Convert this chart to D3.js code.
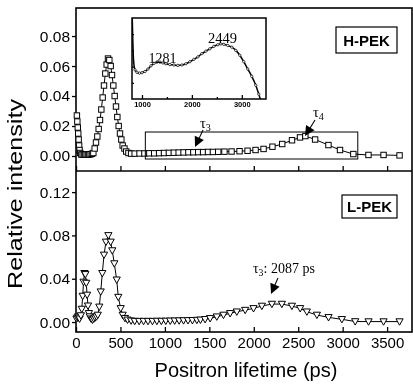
<!DOCTYPE html>
<html><head><meta charset="utf-8">
<script src="https://cdn.jsdelivr.net/npm/d3@7"></script>
<style>body{margin:0;background:#fff}svg{display:block;filter:grayscale(1)}text{fill:#000}</style>
</head><body><svg id="c" width="413" height="384"></svg>
<script>
// ---------- data ----------
const hpekLifetime = [10,15,20,25,30,35,40,48,60,75,90,105,120,135,150,165,180,195,210,225,240,255,270,285,300,315,330,345,360,375,390,405,420,435,450,465,480,495,510,525,545,565,590,620,660,715,770,825,880,935,990,1045,1100,1155,1210,1265,1320,1375,1430,1485,1540,1600,1670,1750,1840,1930,2020,2110,2210,2320,2430,2520,2580,2690,2840,2970,3120,3290,3460,3640];
const hpekIntensity = [0.027,0.023,0.019,0.015,0.011,0.007,0.004,0.002,0.001,0.001,0.001,0.001,0.001,0.001,0.001,0.0012,0.0015,0.002,0.005,0.009,0.013,0.018,0.024,0.031,0.039,0.047,0.055,0.061,0.065,0.064,0.060,0.054,0.047,0.040,0.033,0.026,0.020,0.015,0.011,0.007,0.005,0.003,0.002,0.0016,0.0016,0.0017,0.0017,0.0018,0.0018,0.0019,0.002,0.0021,0.0022,0.0023,0.0024,0.0025,0.0025,0.0026,0.0026,0.0027,0.0027,0.0028,0.0029,0.003,0.0032,0.0035,0.004,0.0047,0.0062,0.008,0.0105,0.0124,0.0133,0.011,0.0073,0.004,0.0013,0.0007,0.0007,0.0004];

const lpekLifetime = [5,15,25,32,40,55,65,75,85,95,105,115,125,135,145,155,170,185,200,215,230,245,262,278,296,315,337,364,390,408,431,458,476,503,525,551,580,620,660,710,760,810,860,910,960,1010,1060,1110,1160,1210,1260,1310,1360,1400,1452,1509,1584,1659,1734,1809,1903,1997,2091,2204,2316,2429,2522,2597,2710,2841,2991,3141,3291,3460,3640];
const lpekIntensity = [0.003,0.004,0.005,0.004,0.003,0.006,0.012,0.024,0.037,0.045,0.044,0.036,0.025,0.015,0.008,0.005,0.003,0.002,0.003,0.004,0.005,0.0065,0.014,0.028,0.045,0.062,0.074,0.080,0.074,0.066,0.054,0.039,0.023,0.0126,0.0065,0.0035,0.002,0.0012,0.0008,0.0008,0.0008,0.0008,0.0008,0.0009,0.0009,0.001,0.0011,0.0012,0.0013,0.0014,0.0015,0.0016,0.0018,0.002,0.0025,0.0034,0.0049,0.0065,0.008,0.0095,0.011,0.0126,0.0148,0.0166,0.0166,0.0148,0.0126,0.0095,0.0065,0.0043,0.0025,0.0005,0.0004,0.0004,0.0004];

const insetLifetime = [805,815,825,840,860,900,950,1000,1060,1120,1180,1240,1300,1360,1420,1480,1560,1640,1720,1800,1880,1960,2040,2120,2200,2280,2360,2440,2520,2580,2640,2720,2800,2880,2960,3040,3120,3200,3280,3340,3380];
const insetIntensity = [1.0,0.75,0.55,0.42,0.36,0.33,0.32,0.325,0.34,0.37,0.41,0.44,0.455,0.455,0.445,0.435,0.425,0.42,0.415,0.42,0.435,0.46,0.49,0.52,0.56,0.59,0.62,0.65,0.67,0.68,0.675,0.66,0.64,0.60,0.54,0.46,0.37,0.28,0.17,0.06,-0.02];

const xTicks = [0,500,1000,1500,2000,2500,3000,3500];
const topTicks = [0.00,0.02,0.04,0.06,0.08];
const botTicks = [0.00,0.04,0.08,0.12];
const insetXTicks = [1000,2000,3000];
const insetMinorTicks = [1500,2500];
const insetYTicks = [0.2,0.4,0.6,0.8];
const insetPeakLabels = ["1281","2449"];
const panelNames = ["H-PEK","L-PEK"];
const xTitle = "Positron lifetime (ps)";
const yTitle = "Relative intensity";

// ---------- layout ----------
const L=76, R=412, T=8, M=171, B=332;
const sans = "'Liberation Sans', Arial, Helvetica, sans-serif";
const serif = "'Liberation Serif', 'Times New Roman', serif";
const svg = d3.select('#c');

const x = d3.scaleLinear().domain([0,3780]).range([L,R]);
const yTop = d3.scaleLinear().domain([-0.01,0.0987]).range([M,T]);
const yBot = d3.scaleLinear().domain([-0.0092,0.1395]).range([B,M]);

const ix = d3.scaleLinear().domain([800,3485]).range([132,266]);
const iy = d3.scaleLinear().domain([0,1]).range([99,18]);

function styleAxis(g, fs){
  g.select('.domain').remove();
  g.selectAll('text').attr('font-family',sans).attr('font-size',fs).attr('fill','#000');
  g.selectAll('line').attr('stroke','#000').attr('stroke-width',1.3);
}

// y axes
svg.append('g').attr('transform',`translate(${L},0)`)
  .call(d3.axisLeft(yTop).tickValues(topTicks).tickFormat(d3.format('.2f')).tickSize(4).tickPadding(2))
  .call(g=>styleAxis(g,15.5));
svg.append('g').attr('transform',`translate(${L},0)`)
  .call(d3.axisLeft(yBot).tickValues(botTicks).tickFormat(d3.format('.2f')).tickSize(4).tickPadding(2))
  .call(g=>styleAxis(g,15.5));

// x axes (ticks inward)
svg.append('g').attr('transform',`translate(0,${B})`)
  .call(d3.axisBottom(x).tickValues(xTicks).tickFormat(d3.format('d')).tickSizeInner(-5).tickSizeOuter(0).tickPadding(5))
  .call(g=>styleAxis(g,15));
svg.append('g').attr('transform',`translate(0,${M})`)
  .call(d3.axisBottom(x).tickValues(xTicks).tickFormat('').tickSizeInner(-5).tickSizeOuter(0))
  .call(g=>styleAxis(g,15));

// frame
svg.append('rect').attr('x',L).attr('y',T).attr('width',R-L).attr('height',B-T)
  .attr('fill','none').attr('stroke','#000').attr('stroke-width',1.6);
svg.append('line').attr('x1',L).attr('x2',R).attr('y1',M).attr('y2',M)
  .attr('stroke','#000').attr('stroke-width',1.6);

// titles
svg.append('text').attr('x',(L+R)/2+2).attr('y',377).attr('text-anchor','middle')
  .attr('font-family',sans).attr('font-size',21).attr('textLength',183).attr('lengthAdjust','spacingAndGlyphs')
  .attr('fill','#000').text(xTitle);
svg.append('text').attr('transform','translate(22,194) rotate(-90)').attr('text-anchor','middle')
  .attr('font-family',sans).attr('font-size',21).attr('textLength',190).attr('lengthAdjust','spacingAndGlyphs')
  .attr('fill','#000').text(yTitle);

// ---------- series ----------
const hpek = hpekLifetime.map((t,i)=>[t,hpekIntensity[i]]);
const lpek = lpekLifetime.map((t,i)=>[t,lpekIntensity[i]]);

svg.append('path').datum(hpek)
  .attr('d', d3.line().x(d=>x(d[0])).y(d=>yTop(d[1])))
  .attr('fill','none').attr('stroke','#000').attr('stroke-width',1);
svg.append('g').selectAll('rect').data(hpek).join('rect')
  .attr('x',d=>x(d[0])-2.7).attr('y',d=>yTop(d[1])-2.7).attr('width',5.4).attr('height',5.4)
  .attr('fill','#fff').attr('stroke','#000').attr('stroke-width',1);

svg.append('path').datum(lpek)
  .attr('d', d3.line().x(d=>x(d[0])).y(d=>yBot(d[1])))
  .attr('fill','none').attr('stroke','#000').attr('stroke-width',1);
svg.append('g').selectAll('path').data(lpek).join('path')
  .attr('transform',d=>`translate(${x(d[0])},${yBot(d[1])})`)
  .attr('d','M-3.6,-2.8L3.6,-2.8L0,3.6Z')
  .attr('fill','#fff').attr('stroke','#000').attr('stroke-width',1);

// ---------- annotations ----------
function arrow(x1,y1,x2,y2){
  const dx=x2-x1, dy=y2-y1, len=Math.hypot(dx,dy), ux=dx/len, uy=dy/len;
  const hl=10, hw=5;
  const bx=x2-ux*hl, by=y2-uy*hl;
  svg.append('line').attr('x1',x1).attr('y1',y1).attr('x2',bx+ux).attr('y2',by+uy)
    .attr('stroke','#000').attr('stroke-width',1.1);
  svg.append('path').attr('d',`M${x2},${y2}L${bx-uy*hw},${by+ux*hw}L${bx+uy*hw},${by-ux*hw}Z`).attr('fill','#000');
}
function tau(xp,yp,sub,extra,fs){
  const t = svg.append('text').attr('x',xp).attr('y',yp).attr('font-family',serif).attr('font-size',fs).attr('fill','#000');
  t.append('tspan').text('τ');
  t.append('tspan').attr('font-size',fs*0.7).attr('dy',3).text(sub);
  if(extra) t.append('tspan').attr('dy',-3).text(extra);
}

// top-panel box around tau3/tau4 region
svg.append('rect').attr('x',x(780)).attr('y',yTop(0.016)).attr('width',x(3170)-x(780)).attr('height',yTop(-0.002)-yTop(0.016))
  .attr('fill','none').attr('stroke','#000').attr('stroke-width',1);

tau(x(1395),yTop(0.0187),'3',null,14.5);
arrow(x(1429),yTop(0.0173),x(1339),yTop(0.006));
tau(x(2666),yTop(0.026),'4',null,14.5);
arrow(x(2689),yTop(0.024),x(2576),yTop(0.0133));

tau(x(1991),yBot(0.0453),'3',': 2087 ps',14);
arrow(x(2272),yBot(0.0407),x(2194),yBot(0.0259));

// panel labels
[[panelNames[0],336,27,61,26,46],[panelNames[1],342,195,55,23,212]].forEach(p=>{
  svg.append('rect').attr('x',p[1]).attr('y',p[2]).attr('width',p[3]).attr('height',p[4])
    .attr('fill','#fff').attr('stroke','#000').attr('stroke-width',1.2);
  svg.append('text').attr('x',p[1]+p[3]/2).attr('y',p[5]).attr('text-anchor','middle')
    .attr('font-family',sans).attr('font-weight','bold').attr('font-size',15).attr('fill','#000').text(p[0]);
});

// ---------- inset ----------
const ins = svg.append('g');
ins.append('rect').attr('x',132).attr('y',18).attr('width',134).attr('height',81)
  .attr('fill','#fff').attr('stroke','#000').attr('stroke-width',1.5);
svg.append('clipPath').attr('id','ic').append('rect').attr('x',132).attr('y',18).attr('width',134).attr('height',81);
const inset = insetLifetime.map((t,i)=>[t,insetIntensity[i]]);
const ig = ins.append('g').attr('clip-path','url(#ic)');
ig.append('path').datum(inset)
  .attr('d',d3.line().x(d=>ix(d[0])).y(d=>iy(d[1])).curve(d3.curveMonotoneX))
  .attr('fill','none').attr('stroke','#000').attr('stroke-width',1.5);
ig.selectAll('circle').data(inset.slice(4)).join('circle')
  .attr('cx',d=>ix(d[0])).attr('cy',d=>iy(d[1])).attr('r',1.2)
  .attr('fill','#fff').attr('stroke','#000').attr('stroke-width',0.7);
ins.append('g').attr('transform','translate(0,99)')
  .call(d3.axisBottom(ix).tickValues(insetXTicks).tickFormat(d3.format('d')).tickSizeInner(-4).tickSizeOuter(0).tickPadding(3))
  .call(g=>{styleAxis(g,7.5); g.selectAll('text').attr('font-weight','bold');});
ins.append('g').attr('transform','translate(0,99)')
  .call(d3.axisBottom(ix).tickValues(insetMinorTicks).tickFormat('').tickSizeInner(-2).tickSizeOuter(0))
  .call(g=>styleAxis(g,7));
ins.append('g').attr('transform','translate(132,0)')
  .call(d3.axisRight(iy).tickValues(insetYTicks).tickFormat('').tickSizeInner(2).tickSizeOuter(0))
  .call(g=>styleAxis(g,7));
ins.append('text').attr('x',ix(1411)).attr('y',iy(0.444)).attr('text-anchor','middle')
  .attr('font-family',serif).attr('font-size',14).attr('fill','#000').text(insetPeakLabels[0]);
ins.append('text').attr('x',ix(2613)).attr('y',iy(0.69)).attr('text-anchor','middle')
  .attr('font-family',serif).attr('font-size',14.5).attr('fill','#000').text(insetPeakLabels[1]);
</script>
</body></html>
